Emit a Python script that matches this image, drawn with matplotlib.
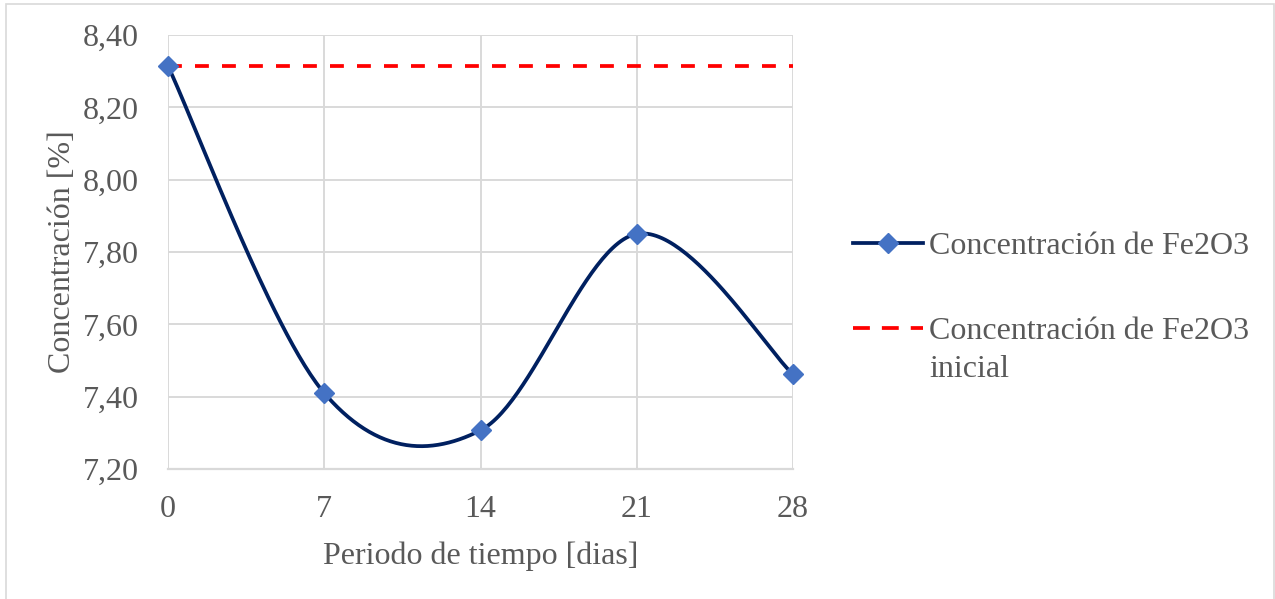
import numpy as np
import matplotlib
matplotlib.use("Agg")
import matplotlib.pyplot as plt
from matplotlib.lines import Line2D
from matplotlib.patches import Rectangle

plt.rcParams['font.family'] = ['Liberation Serif', 'DejaVu Serif']

# Data
days = [0, 7, 14, 21, 28]
fe2o3 = [8.314, 7.41, 7.307, 7.85, 7.462]
fe2o3_initial = 8.314
y_ticks = [7.20, 7.40, 7.60, 7.80, 8.00, 8.20, 8.40]

label_series = "Concentración de Fe2O3"
label_initial = "Concentración de Fe2O3\ninicial"
x_title = "Periodo de tiempo [dias]"
y_title = "Concentración [%]"

TEXT = "#595959"
GRID = "#d9d9d9"
NAVY = "#002060"
MARKER = "#4472C4"
RED = "#ff0000"
FS = 23
LW = 2.7
MS = 10.5
DASH = (0, (3.7, 3.5))

W, H = 1275, 599


def fx(px):
    return px / W


def fy(py):
    return 1 - py / H


def smooth_curve(x, y, n=60):
    """Cubic Bezier smoothing through every point (spreadsheet-style)."""
    pts = np.column_stack([np.asarray(x, float), np.asarray(y, float)])
    m = len(pts)
    out = []
    for i in range(m - 1):
        p0 = pts[max(i - 1, 0)]
        p1 = pts[i]
        p2 = pts[i + 1]
        p3 = pts[min(i + 2, m - 1)]
        c1 = p1 + (p2 - p0) / 6.0
        c2 = p2 - (p3 - p1) / 6.0
        t = np.linspace(0, 1, n)[:, None]
        seg = ((1 - t) ** 3) * p1 + 3 * ((1 - t) ** 2) * t * c1 \
            + 3 * (1 - t) * t ** 2 * c2 + t ** 3 * p2
        out.append(seg if i == 0 else seg[1:])
    seg = np.vstack(out)
    return seg[:, 0], seg[:, 1]


fig = plt.figure(figsize=(W / 100, H / 100), dpi=100)
fig.patch.set_facecolor("white")

# chart-area border
fig.add_artist(Rectangle((fx(6), -0.05), fx(1274) - fx(6), fy(4) + 0.05,
                         transform=fig.transFigure, fill=False,
                         edgecolor=GRID, linewidth=1.2))

ax = fig.add_axes([fx(168), fy(469), fx(793) - fx(168), fy(35) - fy(469)])

sx, sy = smooth_curve(days, fe2o3)
ax.plot(sx, sy, color=NAVY, linewidth=LW, solid_capstyle='round', zorder=3)
ax.plot(days, fe2o3, linestyle='none', marker='D', markersize=MS,
        color=MARKER, markeredgecolor=MARKER, zorder=4, clip_on=False)
ax.plot(days, [fe2o3_initial] * len(days), color=RED, linewidth=LW,
        linestyle=DASH, dash_capstyle='butt', zorder=3)

ax.set_xlim(days[0], days[-1])
ax.set_ylim(y_ticks[0], y_ticks[-1])
ax.set_xticks(days)
ax.set_xticklabels([str(d) for d in days])
ax.set_yticks(y_ticks)
ax.set_yticklabels([f"{v:.2f}".replace(".", ",") for v in y_ticks])

ax.grid(True, color=GRID, linewidth=1.4)
ax.set_axisbelow(True)
for side in ("top", "right", "left"):
    ax.spines[side].set_visible(False)
ax.spines["bottom"].set_color(GRID)
ax.spines["bottom"].set_linewidth(1.6)

ax.tick_params(axis='both', length=0, labelsize=FS, labelcolor=TEXT)
ax.tick_params(axis='y', pad=21)
ax.tick_params(axis='x', pad=19)

ax.set_xlabel(x_title, fontsize=FS, color=TEXT, labelpad=12)
ax.set_ylabel(y_title, fontsize=FS, color=TEXT, labelpad=4)

# legend, drawn in figure coordinates
hx0, hx1 = 853, 923
fig.add_artist(Line2D([fx(hx0), fx(hx1)], [fy(243), fy(243)], color=NAVY,
                      linewidth=LW, transform=fig.transFigure))
fig.add_artist(Line2D([fx((hx0 + hx1) / 2)], [fy(243)], linestyle='none',
                      marker='D', markersize=MS, color=MARKER,
                      markeredgecolor=MARKER, transform=fig.transFigure))
fig.add_artist(Line2D([fx(hx0), fx(hx1)], [fy(328), fy(328)], color=RED,
                      linewidth=LW, linestyle=(0, (4.5, 3.2)),
                      transform=fig.transFigure))
fig.text(fx(929), fy(243), label_series, fontsize=FS, color=TEXT,
         ha='left', va='center_baseline')
first, second = label_initial.split("\n")
fig.text(fx(929), fy(328), first, fontsize=FS, color=TEXT,
         ha='left', va='center_baseline')
fig.text(fx(929), fy(366), second, fontsize=FS, color=TEXT,
         ha='left', va='center_baseline')

fig.savefig("out.png", dpi=100, facecolor="white")
